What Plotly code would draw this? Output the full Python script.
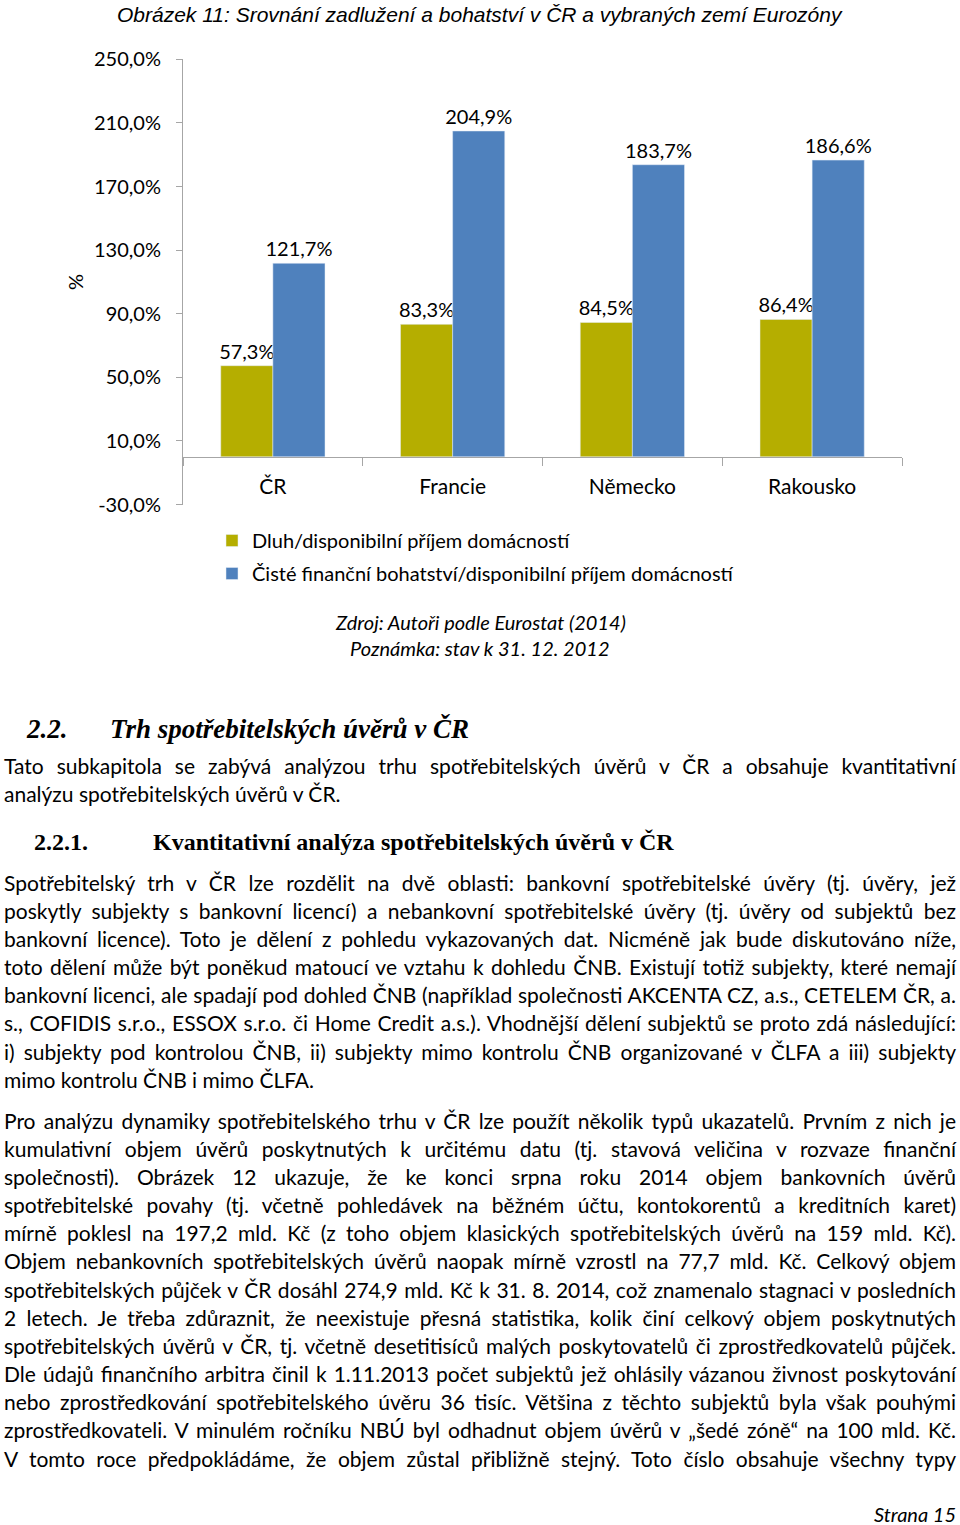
import plotly.graph_objects as go

# ---------------- data ----------------
categories = ["ČR", "Francie", "Německo", "Rakousko"]
debt_income = [57.3, 83.3, 84.5, 86.4]
wealth_income = [121.7, 204.9, 183.7, 186.6]
series_names = ["Dluh/disponibilní příjem domácností",
                "Čisté finanční bohatství/disponibilní příjem domácností"]
y_tickvals = [-30, 10, 50, 90, 130, 170, 210, 250]
y_ticktext = ["-30,0%", "10,0%", "50,0%", "90,0%", "130,0%", "170,0%", "210,0%", "250,0%"]

chart_title = "Obrázek 11: Srovnání zadlužení a bohatství v ČR a vybraných zemí Eurozóny"
source_lines = ["Zdroj: Autoři podle Eurostat (2014)", "Poznámka: stav k 31. 12. 2012"]

heading1 = ("2.2.", "Trh spotřebitelských úvěrů v ČR")
heading2 = ("2.2.1.", "Kvantitativní analýza spotřebitelských úvěrů v ČR")

para1 = [
    "Tato subkapitola se zabývá analýzou trhu spotřebitelských úvěrů v ČR a obsahuje kvantitativní",
    "analýzu spotřebitelských úvěrů v ČR.",
]
para2 = [
    "Spotřebitelský trh v ČR lze rozdělit na dvě oblasti: bankovní spotřebitelské úvěry (tj. úvěry, jež",
    "poskytly subjekty s bankovní licencí) a nebankovní spotřebitelské úvěry (tj. úvěry od subjektů bez",
    "bankovní licence). Toto je dělení z pohledu vykazovaných dat. Nicméně jak bude diskutováno níže,",
    "toto dělení může být poněkud matoucí ve vztahu k dohledu ČNB. Existují totiž subjekty, které nemají",
    "bankovní licenci, ale spadají pod dohled ČNB (například společnosti AKCENTA CZ, a.s., CETELEM ČR, a.",
    "s., COFIDIS s.r.o., ESSOX s.r.o. či Home Credit a.s.). Vhodnější dělení subjektů se proto zdá následující:",
    "i) subjekty pod kontrolou ČNB, ii) subjekty mimo kontrolu ČNB organizované v ČLFA a iii) subjekty",
    "mimo kontrolu ČNB i mimo ČLFA.",
]
para3 = [
    "Pro analýzu dynamiky spotřebitelského trhu v ČR lze použít několik typů ukazatelů. Prvním z nich je",
    "kumulativní objem úvěrů poskytnutých k určitému datu (tj. stavová veličina v rozvaze finanční",
    "společnosti). Obrázek 12 ukazuje, že ke konci srpna roku 2014 objem bankovních úvěrů",
    "spotřebitelské povahy (tj. včetně pohledávek na běžném účtu, kontokorentů a kreditních karet)",
    "mírně poklesl na 197,2 mld. Kč (z toho objem klasických spotřebitelských úvěrů na 159 mld. Kč).",
    "Objem nebankovních spotřebitelských úvěrů naopak mírně vzrostl na 77,7 mld. Kč. Celkový objem",
    "spotřebitelských půjček v ČR dosáhl 274,9 mld. Kč k 31. 8. 2014, což znamenalo stagnaci v posledních",
    "2 letech. Je třeba zdůraznit, že neexistuje přesná statistika, kolik činí celkový objem poskytnutých",
    "spotřebitelských úvěrů v ČR, tj. včetně desetitisíců malých poskytovatelů či zprostředkovatelů půjček.",
    "Dle údajů finančního arbitra činil k 1.11.2013 počet subjektů jež ohlásily vázanou živnost poskytování",
    "nebo zprostředkování spotřebitelského úvěru 36 tisíc. Většina z těchto subjektů byla však pouhými",
    "zprostředkovateli. V minulém ročníku NBÚ byl odhadnut objem úvěrů v „šedé zóně“ na 100 mld. Kč.",
    "V tomto roce předpokládáme, že objem zůstal přibližně stejný. Toto číslo obsahuje všechny typy",
]
page_label = "Strana 15"

# ---------------- geometry / styles ----------------
W, H = 960, 1525
def py(px):  # pixel row -> paper y
    return 1 - px / H
def px_x(px):
    return px / W

GREEN = "#B5AE00"
BLUE = "#4F81BD"
AXIS = "#A6A6A6"
BODY = "Lato, Carlito, Calibri, sans-serif"
SERIF = "Liberation Serif, Times New Roman, serif"

ymin, ymax = -30, 250
yd0, yd1 = py(504.5), py(59.3)
x_axis_pos = yd0 + (0 - ymin) / (ymax - ymin) * (yd1 - yd0)

fig = go.Figure()
fig.add_trace(go.Bar(
    x=categories, y=debt_income, name=series_names[0], marker_color=GREEN,
    texttemplate="%{y:.1f}%", textposition="outside", cliponaxis=False, constraintext="none",
    textfont=dict(family=BODY, size=20, color="#000"), legendgroup="a",
))
fig.add_trace(go.Bar(
    x=categories, y=wealth_income, name=series_names[1], marker_color=BLUE,
    texttemplate="%{y:.1f}%", textposition="outside", cliponaxis=False, constraintext="none",
    textfont=dict(family=BODY, size=20, color="#000"), legendgroup="b",
))

annotations = []
def add_text(text, x, y, size, family=BODY, xanchor="left", style="normal",
             weight="normal", angle=0, color="#000"):
    annotations.append(dict(
        text=text, x=x, y=y, xref="paper", yref="paper", showarrow=False,
        xanchor=xanchor, yanchor="middle", align=xanchor if xanchor != "center" else "center",
        textangle=angle,
        font=dict(family=family, size=size, style=style, weight=weight, color=color),
    ))
    return len(annotations) - 1

add_text(chart_title, 0.5, py(15), 21,
         family="Liberation Sans Narrow, Arial Narrow, Liberation Sans, sans-serif",
         xanchor="center", style="italic")
add_text("%", px_x(75), py(282), 20, xanchor="center", angle=-90)
for i, line in enumerate(source_lines):
    add_text(line, 0.5, py(622 + 26 * i), 20, xanchor="center", style="italic")

add_text(heading1[0], px_x(24), py(729), 27, family=SERIF, style="italic", weight="bold")
add_text(heading1[1], px_x(108), py(729), 27, family=SERIF, style="italic", weight="bold")
add_text(heading2[0], px_x(32), py(842), 24, family=SERIF, weight="bold")
add_text(heading2[1], px_x(151), py(842), 24, family=SERIF, weight="bold")

LINE = 28.17
justify_idx = []
for para, y0 in ((para1, 765), (para2, 882), (para3, 1120)):
    for i, line in enumerate(para):
        idx = add_text(line, px_x(2), py(y0 + LINE * i), 21)
        last = (i == len(para) - 1) and para is not para3
        if not last:
            justify_idx.append(idx)

add_text(page_label, px_x(958), py(1514), 20, xanchor="right", style="italic")

fig.update_layout(
    width=W, height=H, autosize=False,
    margin=dict(l=0, r=0, t=0, b=0, pad=0, autoexpand=False),
    paper_bgcolor="white", plot_bgcolor="white",
    separators=", ",
    barmode="group", bargap=0.42, bargroupgap=0,
    showlegend=True,
    legend=dict(x=px_x(212), y=py(521), xanchor="left", yanchor="top",
                font=dict(family=BODY, size=20, color="#000"),
                tracegroupgap=4, bgcolor="rgba(0,0,0,0)", traceorder="grouped"),
    xaxis=dict(domain=[px_x(183), px_x(902)], anchor="free", position=x_axis_pos,
               range=[-0.5, 3.5], showline=True, linecolor=AXIS, linewidth=1,
               ticks="outside", tickson="boundaries", ticklen=8, tickcolor=AXIS,
               tickfont=dict(family=BODY, size=21, color="#000"), automargin=False,
               ticklabelstandoff=11, showgrid=False, zeroline=False, fixedrange=True),
    yaxis=dict(domain=[yd0, yd1], range=[ymin, ymax], tickvals=y_tickvals, ticktext=y_ticktext,
               showline=True, linecolor=AXIS, linewidth=1, ticks="outside", ticklen=6,
               tickcolor=AXIS, tickfont=dict(family=BODY, size=20, color="#000"), automargin=False,
               ticklabelstandoff=11, showgrid=False, zeroline=False, fixedrange=True),
    annotations=annotations,
)

justify_js = """
document.body.style.margin = '0';
document.body.style.overflow = 'hidden';
var gd = document.getElementById('{plot_id}');
var JUST = %s;
var TARGET = 952;
function justifyLines(){
  var anns = gd.querySelectorAll('g.annotation');
  anns.forEach(function(g){
    var idx = +g.getAttribute('data-index');
    if (JUST.indexOf(idx) < 0) return;
    var t = g.querySelector('text.annotation-text');
    if (!t) return;
    t.style.wordSpacing = '0px';
    var w = t.getComputedTextLength();
    var n = (t.textContent.match(/ /g) || []).length;
    if (n > 0) t.style.wordSpacing = ((TARGET - w) / n) + 'px';
  });
}
justifyLines();
gd.on('plotly_afterplot', justifyLines);
""" % str(justify_idx)

fig.write_html("out.html", post_script=justify_js, config={"displayModeBar": False})
